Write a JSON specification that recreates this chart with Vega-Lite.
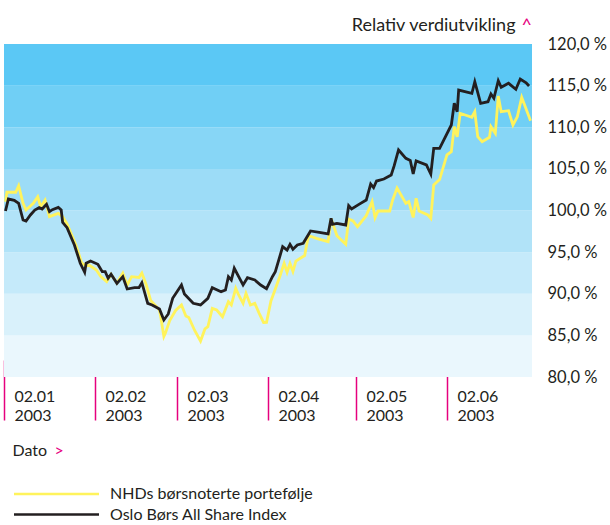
{
  "$schema": "https://vega.github.io/schema/vega-lite/v6.json",
  "width": 528,
  "height": 333,
  "autosize": "none",
  "padding": {"left": 4, "top": 44, "right": 78, "bottom": 148},
  "background": "white",
  "config": {
    "view": {"stroke": null},
    "font": "Lato",
    "legend": {
      "orient": "none",
      "title": null,
      "padding": 0,
      "symbolType": "M-5,0H5",
      "symbolSize": 289,
      "symbolStrokeWidth": 2.5,
      "labelFont": "Lato",
      "labelFontSize": 16,
      "labelColor": "#231f20",
      "labelOffset": 43.5,
      "labelLimit": 400,
      "rowPadding": 2.5
    }
  },
  "datasets": {
    "bands": [
      {"lo": 80, "hi": 85}, {"lo": 85, "hi": 90}, {"lo": 90, "hi": 95}, {"lo": 95, "hi": 100},
      {"lo": 100, "hi": 105}, {"lo": 105, "hi": 110}, {"lo": 110, "hi": 115}, {"lo": 115, "hi": 120}
    ],
    "nhd": [
      {"d":"2003-01-02T12:00","v":101.06},{"d":"2003-01-03T00:00","v":102.19},{"d":"2003-01-06T00:00","v":102.19},
      {"d":"2003-01-07T00:00","v":102.98},{"d":"2003-01-08T12:00","v":100.86},{"d":"2003-01-09T12:00","v":100.06},
      {"d":"2003-01-12T00:00","v":100.86},{"d":"2003-01-13T12:00","v":101.66},{"d":"2003-01-14T12:00","v":100.46},
      {"d":"2003-01-16T00:00","v":101.26},{"d":"2003-01-17T12:00","v":99.26},{"d":"2003-01-20T12:00","v":99.66},
      {"d":"2003-01-22T00:00","v":99.26},{"d":"2003-01-23T12:00","v":98.38},{"d":"2003-01-26T12:00","v":95.86},
      {"d":"2003-01-28T12:00","v":93.69},{"d":"2003-01-30T00:00","v":93.33},{"d":"2003-01-31T00:00","v":93.45},
      {"d":"2003-02-02T12:00","v":92.85},{"d":"2003-02-04T00:00","v":92.05},{"d":"2003-02-06T00:00","v":91.45},
      {"d":"2003-02-07T12:00","v":92.34},{"d":"2003-02-09T12:00","v":91.29},{"d":"2003-02-11T12:00","v":92.46},
      {"d":"2003-02-13T00:00","v":91.05},{"d":"2003-02-14T12:00","v":92.05},{"d":"2003-02-17T00:00","v":91.95},
      {"d":"2003-02-18T00:00","v":92.49},{"d":"2003-02-19T12:00","v":91.05},{"d":"2003-02-21T00:00","v":89.19},
      {"d":"2003-02-23T00:00","v":88.44},{"d":"2003-02-24T00:00","v":88.05},{"d":"2003-02-24T12:00","v":87.05},
      {"d":"2003-02-25T12:00","v":84.86},{"d":"2003-02-26T00:00","v":85.25},{"d":"2003-02-27T12:00","v":86.79},
      {"d":"2003-03-01T12:00","v":87.99},{"d":"2003-03-03T12:00","v":88.65},{"d":"2003-03-05T00:00","v":87.33},
      {"d":"2003-03-06T00:00","v":87.15},{"d":"2003-03-08T00:00","v":85.59},{"d":"2003-03-10T00:00","v":84.32},
      {"d":"2003-03-11T12:00","v":85.77},{"d":"2003-03-12T12:00","v":86.04},{"d":"2003-03-14T00:00","v":88.25},
      {"d":"2003-03-15T12:00","v":88.05},{"d":"2003-03-17T12:00","v":87.24},{"d":"2003-03-19T12:00","v":89.04},
      {"d":"2003-03-20T12:00","v":88.65},{"d":"2003-03-22T00:00","v":90.65},{"d":"2003-03-23T00:00","v":89.85},
      {"d":"2003-03-24T12:00","v":88.85},{"d":"2003-03-25T12:00","v":90.05},{"d":"2003-03-27T00:00","v":88.65},
      {"d":"2003-03-28T12:00","v":88.85},{"d":"2003-03-30T00:00","v":87.65},{"d":"2003-03-31T12:00","v":86.55},
      {"d":"2003-04-01T12:00","v":86.57},{"d":"2003-04-03T00:00","v":89.13},{"d":"2003-04-04T00:00","v":90.09},
      {"d":"2003-04-06T00:00","v":92.05},{"d":"2003-04-07T12:00","v":93.66},{"d":"2003-04-08T12:00","v":92.58},
      {"d":"2003-04-09T12:00","v":93.63},{"d":"2003-04-10T12:00","v":92.67},{"d":"2003-04-11T12:00","v":93.93},
      {"d":"2003-04-14T12:00","v":94.59},{"d":"2003-04-15T12:00","v":96.46},{"d":"2003-04-16T00:00","v":96.97},
      {"d":"2003-04-18T12:00","v":96.66},{"d":"2003-04-22T12:00","v":96.25},{"d":"2003-04-23T12:00","v":99.06},
      {"d":"2003-04-25T12:00","v":96.97},{"d":"2003-04-28T12:00","v":95.94},{"d":"2003-04-29T12:00","v":98.98},
      {"d":"2003-05-01T00:00","v":98.74},{"d":"2003-05-02T12:00","v":98.05},{"d":"2003-05-05T12:00","v":99.38},
      {"d":"2003-05-07T12:00","v":101.06},{"d":"2003-05-08T12:00","v":99.14},{"d":"2003-05-09T12:00","v":99.94},
      {"d":"2003-05-13T12:00","v":99.94},{"d":"2003-05-14T12:00","v":101.26},{"d":"2003-05-16T00:00","v":102.70},
      {"d":"2003-05-19T00:00","v":100.86},{"d":"2003-05-20T00:00","v":101.06},{"d":"2003-05-21T12:00","v":99.16},
      {"d":"2003-05-22T12:00","v":101.47},{"d":"2003-05-23T12:00","v":99.94},{"d":"2003-05-26T12:00","v":99.46},
      {"d":"2003-05-27T12:00","v":99.06},{"d":"2003-05-28T12:00","v":103.06},{"d":"2003-05-30T12:00","v":103.72},
      {"d":"2003-06-02T00:00","v":106.67},{"d":"2003-06-03T12:00","v":107.06},{"d":"2003-06-04T12:00","v":110.07},
      {"d":"2003-06-05T12:00","v":108.86},{"d":"2003-06-06T12:00","v":111.68},{"d":"2003-06-10T12:00","v":111.20},
      {"d":"2003-06-11T12:00","v":111.87},{"d":"2003-06-12T12:00","v":108.86},{"d":"2003-06-14T00:00","v":108.26},
      {"d":"2003-06-16T12:00","v":108.79},{"d":"2003-06-17T00:00","v":110.07},{"d":"2003-06-18T12:00","v":109.27},
      {"d":"2003-06-19T12:00","v":113.75},{"d":"2003-06-20T12:00","v":111.87},{"d":"2003-06-23T00:00","v":111.99},
      {"d":"2003-06-24T12:00","v":110.27},{"d":"2003-06-26T00:00","v":111.27},{"d":"2003-06-27T12:00","v":113.60},
      {"d":"2003-06-30T12:00","v":110.79}
    ],
    "oslo": [
      {"d":"2003-01-02T12:00","v":99.94},{"d":"2003-01-03T12:00","v":101.38},{"d":"2003-01-05T12:00","v":101.23},
      {"d":"2003-01-07T00:00","v":100.86},{"d":"2003-01-08T12:00","v":98.86},{"d":"2003-01-09T12:00","v":98.74},
      {"d":"2003-01-11T00:00","v":99.46},{"d":"2003-01-12T12:00","v":100.06},{"d":"2003-01-14T00:00","v":100.34},
      {"d":"2003-01-15T00:00","v":100.18},{"d":"2003-01-16T12:00","v":100.74},{"d":"2003-01-17T12:00","v":99.86},
      {"d":"2003-01-18T12:00","v":100.10},{"d":"2003-01-20T12:00","v":100.38},{"d":"2003-01-21T12:00","v":100.06},
      {"d":"2003-01-22T00:00","v":98.58},{"d":"2003-01-23T12:00","v":97.93},{"d":"2003-01-26T00:00","v":95.86},
      {"d":"2003-01-28T00:00","v":93.66},{"d":"2003-01-29T12:00","v":92.58},{"d":"2003-01-30T00:00","v":93.66},
      {"d":"2003-01-31T12:00","v":93.93},{"d":"2003-02-03T00:00","v":93.54},{"d":"2003-02-04T12:00","v":92.65},
      {"d":"2003-02-05T12:00","v":92.65},{"d":"2003-02-06T12:00","v":91.86},{"d":"2003-02-07T12:00","v":92.34},
      {"d":"2003-02-09T12:00","v":91.25},{"d":"2003-02-11T12:00","v":92.05},{"d":"2003-02-13T00:00","v":90.57},
      {"d":"2003-02-15T12:00","v":90.73},{"d":"2003-02-17T00:00","v":90.73},{"d":"2003-02-18T00:00","v":91.33},
      {"d":"2003-02-20T00:00","v":88.85},{"d":"2003-02-21T12:00","v":88.65},{"d":"2003-02-24T00:00","v":88.17},
      {"d":"2003-02-25T12:00","v":86.85},{"d":"2003-02-27T00:00","v":87.57},{"d":"2003-02-28T12:00","v":89.45},
      {"d":"2003-03-03T12:00","v":91.05},{"d":"2003-03-04T12:00","v":89.97},{"d":"2003-03-07T12:00","v":88.85},
      {"d":"2003-03-10T00:00","v":88.65},{"d":"2003-03-12T12:00","v":89.45},{"d":"2003-03-14T00:00","v":90.73},
      {"d":"2003-03-17T00:00","v":90.25},{"d":"2003-03-18T12:00","v":90.45},{"d":"2003-03-19T12:00","v":92.05},
      {"d":"2003-03-20T12:00","v":91.65},{"d":"2003-03-21T12:00","v":93.06},{"d":"2003-03-23T00:00","v":92.05},
      {"d":"2003-03-24T12:00","v":91.05},{"d":"2003-03-26T00:00","v":91.93},{"d":"2003-03-28T12:00","v":91.65},
      {"d":"2003-03-30T12:00","v":91.05},{"d":"2003-04-01T12:00","v":90.61},{"d":"2003-04-03T12:00","v":92.05},
      {"d":"2003-04-04T12:00","v":92.65},{"d":"2003-04-07T00:00","v":95.65},{"d":"2003-04-08T12:00","v":95.25},
      {"d":"2003-04-09T12:00","v":95.94},{"d":"2003-04-10T12:00","v":95.34},{"d":"2003-04-12T00:00","v":95.86},
      {"d":"2003-04-14T00:00","v":96.06},{"d":"2003-04-16T12:00","v":97.54},{"d":"2003-04-19T12:00","v":97.38},
      {"d":"2003-04-22T12:00","v":97.18},{"d":"2003-04-23T12:00","v":99.06},{"d":"2003-04-24T00:00","v":98.34},
      {"d":"2003-04-25T12:00","v":98.46},{"d":"2003-04-28T12:00","v":98.26},{"d":"2003-04-29T12:00","v":100.58},
      {"d":"2003-04-30T12:00","v":100.18},{"d":"2003-05-03T00:00","v":100.74},{"d":"2003-05-05T12:00","v":101.26},
      {"d":"2003-05-07T00:00","v":103.18},{"d":"2003-05-08T00:00","v":102.74},{"d":"2003-05-09T00:00","v":103.54},
      {"d":"2003-05-11T12:00","v":103.78},{"d":"2003-05-14T00:00","v":104.26},{"d":"2003-05-15T00:00","v":105.35},
      {"d":"2003-05-16T12:00","v":107.27},{"d":"2003-05-19T00:00","v":106.27},{"d":"2003-05-20T12:00","v":106.0},
      {"d":"2003-05-21T12:00","v":104.38},{"d":"2003-05-22T12:00","v":105.95},{"d":"2003-05-26T00:00","v":105.47},
      {"d":"2003-05-27T12:00","v":104.38},{"d":"2003-05-28T12:00","v":107.47},{"d":"2003-05-30T12:00","v":107.47},
      {"d":"2003-06-03T12:00","v":110.27},{"d":"2003-06-04T12:00","v":112.88},{"d":"2003-06-05T12:00","v":111.87},
      {"d":"2003-06-06T00:00","v":114.47},{"d":"2003-06-10T12:00","v":114.08},{"d":"2003-06-11T12:00","v":115.47},
      {"d":"2003-06-13T12:00","v":112.88},{"d":"2003-06-16T00:00","v":113.07},{"d":"2003-06-17T00:00","v":113.99},
      {"d":"2003-06-18T00:00","v":113.48},{"d":"2003-06-19T12:00","v":115.59},{"d":"2003-06-20T12:00","v":114.80},
      {"d":"2003-06-23T00:00","v":115.28},{"d":"2003-06-25T12:00","v":114.56},{"d":"2003-06-27T00:00","v":115.80},
      {"d":"2003-06-29T00:00","v":115.35},{"d":"2003-06-30T00:00","v":114.95}
    ]
  },
  "resolve": {"axis": {"x": "independent", "y": "independent"}},
  "layer": [
    {
      "data": {"name": "bands"},
      "mark": {"type": "rect"},
      "encoding": {
        "y": {"field": "lo", "type": "quantitative", "scale": {"domain": [80, 120], "nice": false, "zero": false}, "axis": null},
        "y2": {"field": "hi"},
        "fill": {
          "field": "lo", "type": "ordinal", "legend": null,
          "scale": {
            "domain": [80, 85, 90, 95, 100, 105, 110, 115],
            "range": ["#eaf7fd", "#d9f1fb", "#c5eafa", "#b1e3f8", "#9cdcf7", "#87d6f6", "#70cff5", "#5bc8f5"]
          }
        }
      }
    },
    {
      "data": {"name": "nhd"},
      "mark": {"type": "line", "strokeWidth": 2.8},
      "encoding": {
        "x": {
          "field": "d", "type": "temporal",
          "scale": {"domain": [{"year": 2003, "month": 1, "date": 2}, {"year": 2003, "month": 7, "date": 1}]},
          "axis": {
            "orient": "bottom", "offset": -17, "domain": false, "grid": false,
            "values": [
              {"year": 2003, "month": 1, "date": 2}, {"year": 2003, "month": 2, "date": 2},
              {"year": 2003, "month": 3, "date": 2}, {"year": 2003, "month": 4, "date": 2},
              {"year": 2003, "month": 5, "date": 2}, {"year": 2003, "month": 6, "date": 2}
            ],
            "ticks": true, "tickSize": 60, "tickColor": "#e6007e", "tickWidth": 1.5,
            "labelExpr": "[timeFormat(datum.value, '%d.%m'), timeFormat(datum.value, '%Y')]",
            "labelAlign": "left", "labelBaseline": "top", "labelPadding": -32, "labelOffset": 10,
            "labelFont": "Lato", "labelFontSize": 16, "labelLineHeight": 19, "labelColor": "#231f20",
            "labelOverlap": false, "labelBound": false, "labelFlush": false,
            "title": "Dato", "titleX": 8, "titleY": 90, "titleAlign": "left", "titleAnchor": "start",
            "titleBaseline": "middle", "titleFont": "Lato", "titleFontSize": 16, "titleFontWeight": "normal",
            "titleColor": "#231f20"
          }
        },
        "y": {
          "field": "v", "type": "quantitative",
          "scale": {"domain": [80, 120], "nice": false, "zero": false},
          "axis": {
            "orient": "right", "domain": false, "ticks": false, "grid": false,
            "values": [80, 85, 90, 95, 100, 105, 110, 115, 120],
            "labelExpr": "replace(format(datum.value, '.1f'), '.', ',') + ' %'",
            "labelAlign": "left", "labelBaseline": "middle", "labelPadding": 15,
            "labelFont": "Lato", "labelFontSize": 16.5, "labelColor": "#231f20",
            "labelOverlap": false, "labelBound": false, "labelFlush": false,
            "title": "Relativ verdiutvikling", "titleAngle": 0, "titleAlign": "right",
            "titleBaseline": "alphabetic", "titleX": -17, "titleY": -14,
            "titleFont": "Lato", "titleFontSize": 18, "titleFontWeight": "normal", "titleColor": "#231f20"
          }
        },
        "stroke": {
          "datum": "NHDs børsnoterte portefølje", "type": "nominal",
          "scale": {
            "domain": ["NHDs børsnoterte portefølje", "Oslo Børs All Share Index"],
            "range": ["#fff35c", "#231f20"]
          },
          "legend": {"orient": "none", "legendX": 42.5, "legendY": 440}
        }
      }
    },
    {
      "data": {"name": "oslo"},
      "mark": {"type": "line", "strokeWidth": 2.8},
      "encoding": {
        "x": {
          "field": "d", "type": "temporal",
          "axis": {
            "orient": "bottom", "offset": 0, "domain": false, "grid": false, "ticks": false, "labels": false,
            "title": ">", "titleX": 50, "titleY": 73, "titleAlign": "left", "titleAnchor": "start",
            "titleBaseline": "middle", "titleFont": "Lato", "titleFontSize": 16, "titleFontWeight": "normal",
            "titleColor": "#e6007e"
          }
        },
        "y": {
          "field": "v", "type": "quantitative",
          "axis": {
            "orient": "right", "domain": false, "ticks": false, "grid": false, "labels": false,
            "title": "^", "titleAngle": 0, "titleAlign": "left", "titleBaseline": "alphabetic",
            "titleX": -11, "titleY": -14,
            "titleFont": "Lato", "titleFontSize": 18, "titleFontWeight": "normal", "titleColor": "#e6007e"
          }
        },
        "stroke": {"datum": "Oslo Børs All Share Index", "type": "nominal"}
      }
    }
  ]
}
